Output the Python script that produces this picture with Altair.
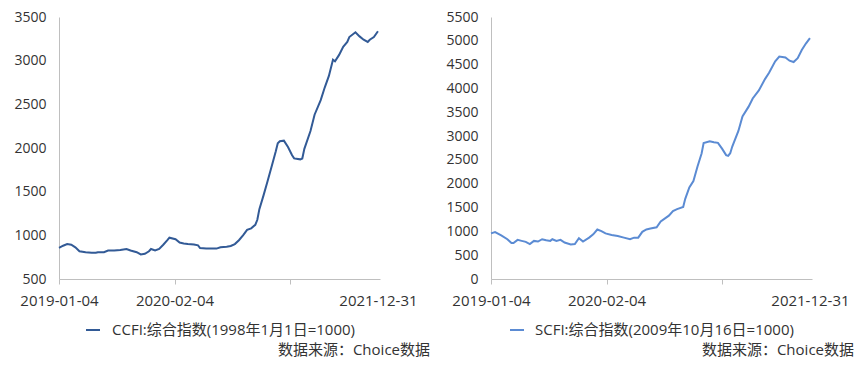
import altair as alt
import pandas as pd

# ---- data (weekly index from 2019-01-04) ----
ccfi_weeks = [0, 2, 4, 6, 8, 10, 13, 16, 18, 19, 22, 24, 27, 30, 33, 35, 38, 40, 42, 44,
              45, 47, 49, 51, 53, 54, 57, 59, 61, 63, 66, 68, 69, 72, 74, 77, 79, 82, 84, 86,
              88, 90, 92, 94, 96, 97, 98, 100, 102, 104, 106, 107, 108, 110, 112, 114, 115, 118, 119, 120,
              123, 125, 128, 130, 132, 134, 135, 137, 139, 141, 142, 145, 147, 149, 151, 152, 154, 156]
ccfi_values = [856, 881, 900, 892, 862, 818, 807, 800, 800, 807, 807, 826, 826, 833, 844, 826, 807, 781, 789, 818,
               844, 826, 844, 892, 944, 973, 955, 918, 907, 900, 896, 885, 855, 848, 848, 848, 863, 870, 878, 900,
               944, 1000, 1062, 1080, 1120, 1178, 1300, 1455, 1620, 1789, 1960, 2055, 2078, 2084, 2011, 1918, 1881, 1870, 1880, 1990,
               2195, 2381, 2548, 2695, 2825, 3011, 2992, 3066, 3159, 3214, 3270, 3325, 3278, 3240, 3214, 3240, 3270, 3337]

scfi_weeks = [0, 2, 5, 8, 10, 11, 13, 15, 17, 19, 21, 23, 25, 27, 29, 30, 32, 34, 36, 39,
              41, 43, 45, 48, 50, 52, 54, 56, 59, 62, 65, 68, 70, 72, 74, 76, 78, 81, 83, 87,
              89, 91, 94, 95, 97, 99, 101, 103, 104, 107, 109, 111, 113, 115, 116, 117, 118, 121, 123, 126,
              128, 131, 134, 136, 139, 141, 144, 146, 148, 150, 152, 154, 156]
scfi_values = [957, 984, 917, 835, 754, 754, 821, 800, 780, 733, 800, 787, 835, 815, 800, 835, 800, 821, 766, 725,
               733, 856, 787, 868, 937, 1039, 1004, 957, 923, 902, 868, 835, 868, 868, 990, 1039, 1059, 1086, 1208, 1330,
               1426, 1467, 1513, 1683, 1921, 2057, 2363, 2634, 2852, 2893, 2872, 2858, 2736, 2600, 2585, 2640, 2780, 3109, 3414, 3618,
               3789, 3958, 4196, 4331, 4569, 4671, 4650, 4583, 4555, 4636, 4807, 4942, 5058]

tick_positions = [0, 56.5, 113, 156]
tick_labels = ["2019-01-04", "2020-02-04", "", "2021-12-31"]

ccfi_name = "CCFI:综合指数(1998年1月1日=1000)"
scfi_name = "SCFI:综合指数(2009年10月16日=1000)"
source_text = "数据来源：Choice数据"

FONT = "Open Sans, Noto Sans CJK SC"
TXT = "#333333"
AXIS_GRAY = "#bfbfbf"

label_expr = " : ".join(
    f"datum.value == {p} ? '{l}'" for p, l in zip(tick_positions, tick_labels)
) + " : ''"

W, H = 321, 262


def panel(weeks, values, name, color, yr, legend_x, label_offset, src_dx):
    df = pd.DataFrame({"week": weeks, "value": values, "series": name})
    x = alt.X("week:Q",
              scale=alt.Scale(domain=[0, 157], nice=False, zero=False),
              axis=alt.Axis(values=tick_positions, labelExpr=label_expr, title=None, grid=False,
                            labelFlush=False, labelOverlap=False, tickSize=5, labelPadding=9,
                            domainColor=AXIS_GRAY, tickColor=AXIS_GRAY,
                            tickOpacity={"condition": {"test": "datum.value == 156", "value": 0}, "value": 1},
                            labelFontSize=15, labelColor=TXT, labelFont=FONT))
    y = alt.Y("value:Q",
              scale=alt.Scale(domain=[yr[0], yr[1]], nice=False, zero=False),
              axis=alt.Axis(values=list(range(yr[0], yr[1] + 1, 500)), format="d", title=None, grid=False,
                            ticks=False, labelPadding=13, domainColor=AXIS_GRAY,
                            labelFontSize=14, labelColor=TXT, labelFont=FONT,
                            minExtent=51, maxExtent=51))
    line = alt.Chart(df).mark_line(strokeWidth=2).encode(
        x=x, y=y,
        color=alt.Color("series:N",
                        scale=alt.Scale(domain=[name], range=[color]),
                        legend=alt.Legend(title=None, orient="none", legendX=legend_x, legendY=305,
                                          symbolType="stroke", symbolSize=196, symbolStrokeWidth=2,
                                          labelFontSize=15, labelColor=TXT, labelFont=FONT,
                                          labelOffset=label_offset, padding=0, labelLimit=400))
    )
    src = alt.Chart(pd.DataFrame({"t": [source_text]})).mark_text(
        align="right", baseline="middle", fontSize=15, font=FONT, color=TXT
    ).encode(x=alt.value(W + src_dx), y=alt.value(333), text="t:N")
    return alt.layer(line, src).properties(width=W, height=H)


left = panel(ccfi_weeks, ccfi_values, ccfi_name, "#325a96", (500, 3500), 26, 11, 50)
right = panel(scfi_weeks, scfi_values, scfi_name, "#5b8bd3", (0, 5500), 18, 10, 42)

chart = alt.hconcat(left, right, spacing=10).resolve_scale(color="independent").resolve_legend(
    color="independent"
).properties(padding={"left": 0, "top": 2, "right": 0, "bottom": 0}).configure_view(stroke=None)

chart.save("out.html", embed_options={"renderer": "svg", "actions": False})
